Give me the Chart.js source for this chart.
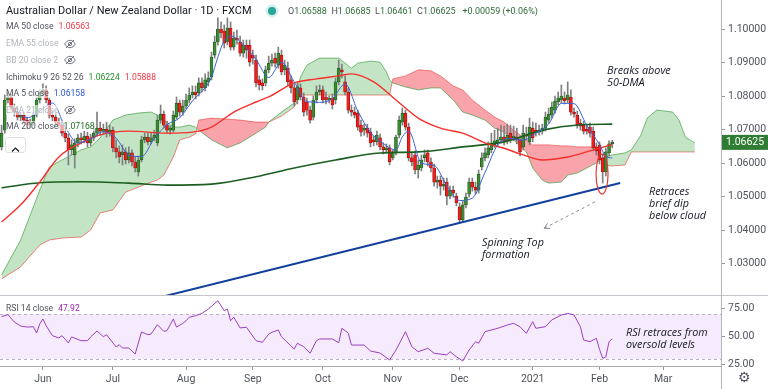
<!DOCTYPE html>
<html>
<head>
<meta charset="utf-8">
<script src="https://cdn.jsdelivr.net/npm/chart.js@4.4.1/dist/chart.umd.min.js"></script>
<style>
body{margin:0;background:#fff;}
#wrap{position:relative;width:768px;height:389px;overflow:hidden;background:#fff;font-family:Roboto,"Noto Sans",sans-serif;}
canvas{position:absolute;left:0;}
.hl{position:absolute;left:0;height:1px;background:#c4c6cc;}
.vl{position:absolute;top:0;width:1px;height:389px;background:#b4b6bd;}
.row{position:absolute;left:6px;font-size:8.6px;line-height:13px;color:#50535e;white-space:nowrap;}
.bg{background:rgba(255,255,255,.6);}
.off{color:#b2b5be;}
.row svg{vertical-align:middle;margin-left:6px;}
.v{margin-left:5px;}
.note{position:absolute;font-family:"Open Sans",sans-serif;font-style:italic;font-size:10.8px;line-height:12px;color:#131722;white-space:nowrap;}
#dot{position:absolute;left:268px;top:7px;width:8px;height:8px;border-radius:50%;background:#26a69a;box-shadow:0 0 0 2.5px #d5efec;}
#btn{position:absolute;left:5px;top:137px;width:19px;height:14px;border:1px solid #dfe1e6;border-radius:3px;background:#fff;text-align:center;}
#gear{position:absolute;left:738px;top:369px;font-family:"DejaVu Sans";font-size:14px;color:#50535e;}
</style>
</head>
<body>
<div id="wrap">
  <canvas id="main" width="768" height="295" style="top:0"></canvas>
  <canvas id="rsi" width="768" height="93" style="top:296px"></canvas>
  <div class="hl" style="top:295px;width:768px"></div>
  <div class="hl" style="top:366px;width:721px;background:#a9abb2"></div>
  <div class="vl" style="left:721px"></div>

  <div class="row" style="top:3px;font-size:11px;line-height:15px;color:#131722"><span class="bg">Australian Dollar / New Zealand Dollar · 1D · FXCM</span></div>
  <div id="dot"></div>
  <div class="row" style="left:288px;top:5px;font-size:9px;line-height:12px;color:#4a4e57">O<span style="color:#2f6b3a">1.06588</span>&nbsp; H<span style="color:#2f6b3a">1.06685</span>&nbsp; L<span style="color:#2f6b3a">1.06461</span>&nbsp; C<span style="color:#2f6b3a">1.06625</span>&nbsp;&nbsp; <span style="color:#2f6b3a">+0.00059 (+0.06%)</span></div>

  <div class="row" style="top:20px"><span class="bg">MA 50 close<span class="v" style="color:#f23645">1.06563</span></span></div>
  <div class="row off" style="top:37px"><span class="bg">EMA 55 close</span><svg width="12" height="10" viewBox="0 0 18 14"><path d="M1 7c2-3.5 5-5.5 8-5.5s6 2 8 5.5c-2 3.5-5 5.5-8 5.5S3 10.5 1 7z" fill="none" stroke="#6a6d78" stroke-width="1.4"/><circle cx="9" cy="7" r="2.4" fill="none" stroke="#6a6d78" stroke-width="1.4"/><path d="M3 13L15 1" stroke="#6a6d78" stroke-width="1.4"/></svg></div>
  <div class="row off" style="top:53.5px"><span class="bg">BB 20 close 2</span><svg width="12" height="10" viewBox="0 0 18 14"><path d="M1 7c2-3.5 5-5.5 8-5.5s6 2 8 5.5c-2 3.5-5 5.5-8 5.5S3 10.5 1 7z" fill="none" stroke="#6a6d78" stroke-width="1.4"/><circle cx="9" cy="7" r="2.4" fill="none" stroke="#6a6d78" stroke-width="1.4"/><path d="M3 13L15 1" stroke="#6a6d78" stroke-width="1.4"/></svg></div>
  <div class="row" style="top:71px"><span class="bg">Ichimoku 9 26 52 26<span class="v" style="color:#22902c">1.06224</span><span class="v" style="color:#f23645">1.05888</span></span></div>
  <div class="row" style="top:87px"><span class="bg">MA 5 close<span class="v" style="color:#2b55d6">1.06158</span></span></div>
  <div class="row off" style="top:103.5px"><span class="bg">EMA 21 close</span><svg width="12" height="10" viewBox="0 0 18 14"><path d="M1 7c2-3.5 5-5.5 8-5.5s6 2 8 5.5c-2 3.5-5 5.5-8 5.5S3 10.5 1 7z" fill="none" stroke="#6a6d78" stroke-width="1.4"/><circle cx="9" cy="7" r="2.4" fill="none" stroke="#6a6d78" stroke-width="1.4"/><path d="M3 13L15 1" stroke="#6a6d78" stroke-width="1.4"/></svg></div>
  <div class="row" style="top:120px"><span class="bg">MA 200 close<span class="v" style="color:#1e6b23">1.07168</span></span></div>
  <div id="btn"><svg width="9" height="7" style="margin-top:4px"><path d="M1 5.5L4.5 2L8 5.5" stroke="#131722" fill="none" stroke-width="1.2"/></svg></div>

  <div class="row" style="top:302px"><span class="bg">RSI 14 close<span class="v" style="color:#9c27b0">47.92</span></span></div>

  <div class="note" style="left:607px;top:64px">Breaks above<br>50-DMA</div>
  <div class="note" style="left:649px;top:185px">Retraces<br>brief dip<br>below cloud</div>
  <div class="note" style="left:482px;top:236px">Spinning Top<br>formation</div>
  <div class="note" style="left:626px;top:326px">RSI retraces from<br>oversold levels</div>
  <div id="gear">⚙</div>
</div>

<script>
// x positions are trading-day indices (0 = 13 May 2020)
const monthLabels = ['Jun','Jul','Aug','Sep','Oct','Nov','Dec','2021','Feb','Mar'];
const monthStart = [13,35,58,79,101,123,144,167,188,208];
const priceTicks = [1.03,1.04,1.05,1.06,1.07,1.08,1.09,1.10];
const rsiTicks = [25,50,75];
const rsiLevels = [30,70];

const opens = [
  1.0649,1.0699,1.0789,1.0798,1.0765,1.0753,1.0738,1.0744,1.0729,1.0714,
  1.0723,1.0744,1.0789,1.0810,1.0819,1.0789,1.0744,1.0738,1.0723,1.0714,
  1.0690,1.0676,1.0640,1.0625,1.0661,1.0676,1.0670,1.0681,1.0661,1.0676,
  1.0690,1.0705,1.0696,1.0702,1.0693,1.0699,1.0646,1.0634,1.0625,1.0634,
  1.0610,1.0631,1.0604,1.0574,1.0610,1.0670,1.0678,1.0664,1.0676,1.0661,
  1.0729,1.0747,1.0714,1.0699,1.0699,1.0738,1.0780,1.0753,1.0771,1.0789,
  1.0804,1.0813,1.0810,1.0840,1.0825,1.0843,1.0858,1.0923,1.0962,1.1001,
  1.0995,1.0962,1.1004,1.0947,1.0974,1.0962,1.0929,1.0953,1.0953,1.0923,
  1.0908,1.0849,1.0840,1.0840,1.0879,1.0899,1.0914,1.0893,1.0923,1.0879,
  1.0884,1.0849,1.0825,1.0789,1.0825,1.0798,1.0783,1.0759,1.0738,1.0789,
  1.0813,1.0819,1.0798,1.0789,1.0795,1.0789,1.0843,1.0879,1.0843,1.0813,
  1.0759,1.0753,1.0750,1.0714,1.0699,1.0705,1.0693,1.0670,1.0664,1.0676,
  1.0649,1.0640,1.0646,1.0616,1.0631,1.0684,1.0723,1.0750,1.0708,1.0616,
  1.0625,1.0580,1.0586,1.0616,1.0631,1.0604,1.0586,1.0544,1.0550,1.0532,
  1.0544,1.0502,1.0520,1.0502,1.0470,1.0431,1.0476,1.0508,1.0544,1.0529,
  1.0520,1.0589,1.0616,1.0625,1.0640,1.0655,1.0661,1.0670,1.0678,1.0667,
  1.0690,1.0676,1.0678,1.0670,1.0649,1.0684,1.0664,1.0705,1.0699,1.0693,
  1.0696,1.0705,1.0729,1.0744,1.0759,1.0783,1.0789,1.0795,1.0789,1.0798,
  1.0753,1.0744,1.0720,1.0714,1.0702,1.0708,1.0696,1.0649,1.0655,1.0616,
  1.0574,1.0631,1.06588
];
const highs = [
  1.0714,1.0804,1.0813,1.0807,1.0777,1.0765,1.0753,1.0753,1.0738,1.0732,
  1.0753,1.0798,1.0819,1.0837,1.0831,1.0795,1.0756,1.0750,1.0735,1.0726,
  1.0705,1.0687,1.0670,1.0673,1.0687,1.0690,1.0696,1.0693,1.0687,1.0711,
  1.0753,1.0723,1.0717,1.0723,1.0714,1.0708,1.0670,1.0652,1.0655,1.0646,
  1.0649,1.0640,1.0619,1.0622,1.0681,1.0690,1.0690,1.0690,1.0699,1.0744,
  1.0774,1.0756,1.0726,1.0711,1.0756,1.0798,1.0789,1.0789,1.0807,1.0825,
  1.0831,1.0831,1.0855,1.0855,1.0867,1.0873,1.0932,1.0980,1.1034,1.1022,
  1.1013,1.1034,1.1022,1.0992,1.0998,1.0980,1.0968,1.0968,1.0968,1.0938,
  1.0923,1.0861,1.0852,1.0890,1.0920,1.0926,1.0929,1.0947,1.0938,1.0908,
  1.0902,1.0861,1.0837,1.0840,1.0837,1.0810,1.0795,1.0771,1.0801,1.0831,
  1.0834,1.0831,1.0813,1.0801,1.0807,1.0855,1.0908,1.0896,1.0861,1.0825,
  1.0774,1.0768,1.0759,1.0729,1.0717,1.0717,1.0705,1.0681,1.0696,1.0687,
  1.0661,1.0658,1.0655,1.0640,1.0684,1.0741,1.0765,1.0759,1.0720,1.0631,
  1.0637,1.0610,1.0625,1.0640,1.0640,1.0616,1.0598,1.0562,1.0562,1.0556,
  1.0556,1.0532,1.0532,1.0511,1.0482,1.0488,1.0511,1.0556,1.0556,1.0544,
  1.0580,1.0631,1.0646,1.0664,1.0690,1.0699,1.0705,1.0714,1.0711,1.0717,
  1.0714,1.0711,1.0705,1.0681,1.0714,1.0708,1.0735,1.0723,1.0720,1.0714,
  1.0717,1.0753,1.0765,1.0783,1.0801,1.0813,1.0834,1.0813,1.0843,1.0819,
  1.0765,1.0756,1.0732,1.0726,1.0717,1.0720,1.0708,1.0661,1.0664,1.0628,
  1.0646,1.0667,1.06685
];
const lows = [
  1.0640,1.0690,1.0780,1.0762,1.0741,1.0729,1.0726,1.0720,1.0702,1.0705,
  1.0714,1.0738,1.0780,1.0801,1.0780,1.0735,1.0726,1.0711,1.0705,1.0681,
  1.0664,1.0595,1.0625,1.0586,1.0649,1.0658,1.0661,1.0649,1.0652,1.0667,
  1.0681,1.0684,1.0687,1.0678,1.0681,1.0634,1.0616,1.0601,1.0595,1.0598,
  1.0601,1.0592,1.0574,1.0562,1.0604,1.0661,1.0655,1.0658,1.0667,1.0652,
  1.0720,1.0705,1.0690,1.0687,1.0693,1.0732,1.0741,1.0744,1.0762,1.0780,
  1.0795,1.0792,1.0801,1.0813,1.0816,1.0831,1.0849,1.0914,1.0953,1.0974,
  1.0944,1.0953,1.0938,1.0938,1.0956,1.0920,1.0917,1.0914,1.0890,1.0896,
  1.0828,1.0819,1.0819,1.0831,1.0870,1.0890,1.0887,1.0884,1.0864,1.0864,
  1.0831,1.0810,1.0771,1.0777,1.0789,1.0741,1.0744,1.0720,1.0729,1.0780,
  1.0804,1.0780,1.0777,1.0780,1.0762,1.0777,1.0834,1.0855,1.0804,1.0750,
  1.0741,1.0735,1.0699,1.0681,1.0684,1.0678,1.0649,1.0652,1.0655,1.0640,
  1.0628,1.0631,1.0595,1.0610,1.0625,1.0676,1.0714,1.0699,1.0607,1.0592,
  1.0568,1.0556,1.0577,1.0604,1.0592,1.0574,1.0532,1.0526,1.0505,1.0520,
  1.0476,1.0494,1.0499,1.0473,1.0422,1.0425,1.0467,1.0499,1.0517,1.0508,
  1.0511,1.0580,1.0607,1.0616,1.0631,1.0646,1.0649,1.0661,1.0655,1.0658,
  1.0661,1.0667,1.0658,1.0622,1.0640,1.0670,1.0655,1.0664,1.0681,1.0684,
  1.0687,1.0696,1.0720,1.0735,1.0750,1.0774,1.0780,1.0777,1.0780,1.0744,
  1.0738,1.0705,1.0699,1.0687,1.0687,1.0678,1.0637,1.0625,1.0598,1.0541,
  1.0562,1.0622,1.06461
];
const closes = [
  1.0690,1.0789,1.0798,1.0765,1.0753,1.0738,1.0744,1.0729,1.0714,1.0723,
  1.0744,1.0789,1.0810,1.0819,1.0789,1.0744,1.0738,1.0723,1.0714,1.0690,
  1.0676,1.0640,1.0655,1.0661,1.0676,1.0670,1.0681,1.0661,1.0676,1.0690,
  1.0705,1.0696,1.0702,1.0693,1.0699,1.0646,1.0634,1.0619,1.0634,1.0610,
  1.0631,1.0604,1.0586,1.0610,1.0670,1.0678,1.0664,1.0676,1.0684,1.0729,
  1.0747,1.0714,1.0699,1.0705,1.0744,1.0780,1.0753,1.0771,1.0789,1.0804,
  1.0813,1.0804,1.0840,1.0825,1.0849,1.0855,1.0917,1.0962,1.1001,1.0989,
  1.0959,1.1004,1.0947,1.0974,1.0968,1.0929,1.0953,1.0938,1.0902,1.0914,
  1.0840,1.0834,1.0831,1.0879,1.0899,1.0908,1.0899,1.0929,1.0873,1.0893,
  1.0843,1.0825,1.0783,1.0828,1.0798,1.0753,1.0759,1.0729,1.0789,1.0813,
  1.0819,1.0789,1.0789,1.0795,1.0774,1.0843,1.0884,1.0873,1.0813,1.0759,
  1.0753,1.0744,1.0708,1.0693,1.0705,1.0690,1.0661,1.0664,1.0684,1.0649,
  1.0640,1.0646,1.0604,1.0634,1.0678,1.0729,1.0750,1.0708,1.0616,1.0604,
  1.0580,1.0595,1.0610,1.0625,1.0604,1.0586,1.0544,1.0550,1.0532,1.0538,
  1.0502,1.0520,1.0511,1.0482,1.0431,1.0476,1.0499,1.0544,1.0529,1.0520,
  1.0568,1.0616,1.0631,1.0646,1.0661,1.0667,1.0670,1.0678,1.0667,1.0684,
  1.0670,1.0681,1.0670,1.0634,1.0690,1.0681,1.0708,1.0676,1.0693,1.0699,
  1.0705,1.0738,1.0747,1.0768,1.0786,1.0795,1.0801,1.0786,1.0804,1.0753,
  1.0747,1.0714,1.0711,1.0696,1.0696,1.0690,1.0646,1.0637,1.0610,1.0574,
  1.0634,1.0658,1.06625
];

// moving averages as [index, value]
const ma5 = [[4,1.0759],[8,1.0736],[12,1.0756],[16,1.0780],[20,1.0708],[24,1.0661],[28,1.0673],[32,1.0694],[36,1.0675],[40,1.0625],
  [44,1.0620],[48,1.0674],[52,1.0715],[56,1.0736],[60,1.0786],[64,1.0826],[66,1.0857],[68,1.0917],[70,1.0966],[72,1.0980],
  [76,1.0954],[80,1.0910],[84,1.0856],[88,1.0902],[92,1.0843],[96,1.0784],[100,1.0782],[104,1.0793],[108,1.0837],[112,1.0756],
  [116,1.0692],[120,1.0659],[124,1.0640],[126,1.0679],[128,1.0696],[132,1.0601],[136,1.0594],[140,1.0533],[144,1.0489],[148,1.0496],
  [152,1.0573],[156,1.0655],[160,1.0674],[164,1.0669],[168,1.0690],[172,1.0717],[176,1.0779],[180,1.0778],[184,1.0713],[188,1.0656],
  [190,1.0620],[192,1.0616]];
const ma50 = [[0,1.0425],[6,1.0476],[12,1.0544],[18,1.0619],[25,1.0661],[31,1.0685],[40,1.0696],[52,1.0690],[60,1.0693],[66,1.0708],
  [73,1.0753],[80,1.0783],[84,1.0798],[92,1.0840],[99,1.0852],[106,1.0861],[110,1.0867],[117,1.0843],[124,1.0789],[131,1.0735],
  [138,1.0705],[145,1.0690],[152,1.0661],[158,1.0645],[164,1.0625],[170,1.0610],[178,1.0619],[185,1.0637],[192,1.0656]];
const ma200 = [[0,1.0527],[12,1.0542],[25,1.0545],[40,1.0541],[52,1.0535],[66,1.0538],[80,1.0560],[92,1.0586],[105,1.0610],[119,1.0631],
  [131,1.0634],[145,1.0649],[158,1.0664],[170,1.0699],[182,1.0715],[192,1.0717]];

// Ichimoku cloud (lead lines, shifted 26 bars ahead)
const cloudIdx = [0,6,12,15,19,25,28,31,35,39,43,47,49,51,54,56,59,61,62,66,71,75,80,83,84,88,92,94,96,100,
  106,110,112,116,119,121,122,123,127,131,135,138,142,145,148,152,155,158,161,165,167,170,172,176,178,181,184,187,189,192,
  196,198,201,203,206,211,213,215,218];
const leadA = [1.0267,1.0371,1.0520,1.0589,1.0610,1.0640,1.0649,1.0676,1.0729,1.0744,1.0750,1.0753,1.0744,1.0729,1.0708,1.0708,1.0714,1.0708,1.0699,1.0670,
  1.0646,1.0661,1.0690,1.0708,1.0723,1.0753,1.0780,1.0858,1.0893,1.0914,1.0914,1.0884,1.0899,1.0905,1.0902,1.0873,1.0849,1.0840,1.0828,1.0819,
  1.0825,1.0825,1.0789,1.0753,1.0744,1.0729,1.0705,1.0693,1.0670,1.0634,1.0586,1.0550,1.0541,1.0544,1.0565,1.0571,1.0586,1.0601,1.0616,1.0625,
  1.0631,1.0640,1.0684,1.0735,1.0759,1.0753,1.0729,1.0678,1.0661];
const leadB = [1.0255,1.0291,1.0356,1.0371,1.0377,1.0380,1.0401,1.0452,1.0461,1.0514,1.0529,1.0544,1.0550,1.0565,1.0619,1.0670,1.0678,1.0688,1.0729,1.0735,
  1.0732,1.0729,1.0723,1.0723,1.0723,1.0741,1.0768,1.0804,1.0804,1.0804,1.0804,1.0804,1.0804,1.0804,1.0804,1.0804,1.0804,1.0852,1.0861,1.0879,
  1.0876,1.0861,1.0831,1.0819,1.0789,1.0759,1.0738,1.0723,1.0699,1.0670,1.0655,1.0655,1.0655,1.0652,1.0652,1.0649,1.0649,1.0649,1.0595,1.0592,
  1.0595,1.0634,1.0634,1.0634,1.0634,1.0634,1.0634,1.0634,1.0634];

const trendLine = [[49.8,1.0200],[194.5,1.0541]];
const dipMark = [188.8,1.0568];
const arrowFrom = [186.6,1.0485];
const arrowTo = [170.6,1.0406];

const rsi = [[0,67.6],[2,69.4],[4,62.9],[6,59.3],[8,58.4],[10,58.7],[11,53.1],[12,61.1],[13,65.6],[14,59.6],
  [16,50.7],[18,48.7],[19,50.7],[21,44.2],[22,49.6],[25,46.3],[27,46.3],[28,49.6],[30,54.9],[32,49.8],
  [33,51.6],[36,40.7],[37,42.7],[38,39.8],[40,39.8],[42,34.4],[44,54.0],[46,51.6],[47,52.2],[49,60.5],
  [51,54.6],[52,55.2],[54,65.6],[55,58.4],[57,61.7],[58,64.0],[59,67.1],[61,68.5],[63,70.6],[65,74.4],
  [68,81.8],[70,72.9],[71,74.4],[72,64.0],[73,67.1],[75,57.6],[77,58.2],[80,46.3],[82,44.8],[84,52.2],
  [85,53.7],[87,55.8],[88,49.8],[92,38.9],[93,44.0],[95,41.0],[97,35.1],[99,46.3],[100,47.8],[104,47.8],
  [106,44.5],[107,57.3],[109,53.1],[110,42.4],[114,42.4],[116,37.1],[119,35.3],[122,29.1],[124,38.0],[126,48.7],
  [127,54.3],[129,40.9],[131,36.5],[134,39.5],[136,35.1],[140,33.6],[141,36.5],[143,32.0],[145,28.2],[147,38.0],
  [149,45.4],[150,44.0],[152,54.3],[156,57.3],[159,60.2],[161,61.7],[163,58.7],[165,52.8],[167,63.2],[168,57.3],
  [171,58.7],[173,64.7],[176,69.1],[178,70.6],[180,69.1],[182,58.7],[183,46.9],[185,45.4],[187,48.4],[188,38.6],
  [189,30.6],[190,32.0],[191,45.4],[192,47.92]];

document.addEventListener('DOMContentLoaded',() =>
{
    Chart.defaults.font.family = 'Roboto';
    const X_MIN = -0.5, X_MAX = 226.2;
    const UP = '#3d8a33', UP_EDGE = '#1f5a1f', DOWN = '#f01e1e', DOWN_EDGE = '#9c1010';
    const AXIS = '#9598a1', LABEL = '#50535e';
    const pts = arr => arr.map(([x,y]) => ({ x,y }));
    const isUp = i => closes[i] >= opens[i];

    // fixed axis sizes so both panels line up
    const fitY = s => { s.width = 47; s.paddingTop = 0; s.paddingBottom = 0; };
    const fitX = s => { s.height = 23; s.paddingLeft = 0; s.paddingRight = 0; };

    const lineSet = (data,color,width,order) => ({
        type: 'line',data: pts(data),borderColor: color,borderWidth: width,pointRadius: 0,
        cubicInterpolationMode: 'monotone',fill: false,order
    });

    // red ellipse, dashed arrow and the last price tag
    const marks = {
        id: 'marks',
        afterDatasetsDraw(chart)
        {
            const { ctx,scales: { x,y } } = chart;
            ctx.save();
            ctx.strokeStyle = '#e53935';
            ctx.lineWidth = 1.2;
            ctx.beginPath();
            ctx.ellipse(x.getPixelForValue(dipMark[0]),y.getPixelForValue(dipMark[1]),6,20,0,0,Math.PI * 2);
            ctx.stroke();

            const x1 = x.getPixelForValue(arrowFrom[0]),y1 = y.getPixelForValue(arrowFrom[1]);
            const x2 = x.getPixelForValue(arrowTo[0]),y2 = y.getPixelForValue(arrowTo[1]);
            ctx.strokeStyle = '#8a8d96';
            ctx.lineWidth = 1;
            ctx.setLineDash([3,3]);
            ctx.beginPath();
            ctx.moveTo(x1,y1);
            ctx.lineTo(x2,y2);
            ctx.stroke();
            ctx.setLineDash([]);
            const a = Math.atan2(y1 - y2,x1 - x2);
            ctx.beginPath();
            ctx.moveTo(x2 + 6 * Math.cos(a - 0.5),y2 + 6 * Math.sin(a - 0.5));
            ctx.lineTo(x2,y2);
            ctx.lineTo(x2 + 6 * Math.cos(a + 0.5),y2 + 6 * Math.sin(a + 0.5));
            ctx.stroke();
            ctx.restore();
        },
        afterDraw(chart)
        {
            const { ctx,chartArea } = chart;
            const last = closes[closes.length - 1];
            const yy = chart.scales.y.getPixelForValue(last);
            ctx.save();
            ctx.fillStyle = '#2f7d32';
            ctx.fillRect(chartArea.right + 1,yy - 7.5,47,15);
            ctx.fillStyle = '#ffffff';
            ctx.font = '10.5px Roboto';
            ctx.textBaseline = 'middle';
            ctx.fillText(last.toFixed(5),chartArea.right + 5,yy + 0.5);
            ctx.restore();
        }
    };

    new Chart(document.getElementById('main'),{
        type: 'bar',
        data: {
            datasets: [
                {
                    type: 'line',data: cloudIdx.map((x,i) => ({ x,y: leadA[i] })),
                    borderColor: 'rgba(67,160,71,0.7)',borderWidth: 1,pointRadius: 0,
                    fill: { target: 1,above: 'rgba(76,175,80,0.33)',below: 'rgba(242,54,69,0.45)' },order: 20
                },
                {
                    type: 'line',data: cloudIdx.map((x,i) => ({ x,y: leadB[i] })),
                    borderColor: 'rgba(239,83,80,0.7)',borderWidth: 1,pointRadius: 0,fill: false,order: 21
                },
                {
                    data: lows.map((l,i) => ({ x: i,y: [l,highs[i]] })),
                    backgroundColor: '#7f7f7f',barThickness: 1,grouped: false,order: 15
                },
                {
                    data: opens.map((o,i) => ({ x: i,y: [o,closes[i]] })),
                    backgroundColor: c => isUp(c.dataIndex) ? UP : DOWN,
                    borderColor: c => isUp(c.dataIndex) ? UP_EDGE : DOWN_EDGE,
                    borderWidth: 0.7,borderSkipped: false,barThickness: 3,grouped: false,order: 14
                },
                lineSet(ma200,'#1b5e20',1.6,5),
                lineSet(ma50,'#f5302b',1.4,4),
                lineSet(ma5,'#3a63d4',1,3),
                { type: 'line',data: pts(trendLine),borderColor: '#123f9c',borderWidth: 2,pointRadius: 0,fill: false,order: 2 }
            ]
        },
        options: {
            responsive: false,animation: false,devicePixelRatio: 1,events: [],
            layout: { padding: 0 },
            plugins: { legend: { display: false },tooltip: { enabled: false } },
            scales: {
                x: { type: 'linear',min: X_MIN,max: X_MAX,display: false,offset: false },
                y: {
                    position: 'right',min: 1.02069,max: 1.10875,
                    afterFit: fitY,
                    afterBuildTicks: s => { s.ticks = priceTicks.map(v => ({ value: v })); },
                    ticks: { callback: v => v.toFixed(5),color: LABEL,font: { size: 10.5 },padding: 3 },
                    grid: { drawOnChartArea: false,tickLength: 4,color: AXIS },
                    border: { display: false }
                }
            }
        },
        plugins: [marks]
    });

    // RSI band between 30 and 70
    const band = {
        id: 'band',
        beforeDatasetsDraw(chart)
        {
            const { ctx,chartArea: a,scales: { y } } = chart;
            const top = y.getPixelForValue(rsiLevels[1]),bot = y.getPixelForValue(rsiLevels[0]);
            ctx.save();
            ctx.fillStyle = 'rgba(170,90,235,0.12)';
            ctx.fillRect(a.left,top,a.width,bot - top);
            ctx.strokeStyle = '#b9b2c6';
            ctx.lineWidth = 1;
            ctx.setLineDash([3,3]);
            [top,bot].forEach(p =>
            {
                ctx.beginPath();
                ctx.moveTo(a.left,Math.round(p) + 0.5);
                ctx.lineTo(a.right,Math.round(p) + 0.5);
                ctx.stroke();
            });
            ctx.restore();
        }
    };

    new Chart(document.getElementById('rsi'),{
        type: 'line',
        data: {
            datasets: [{ data: pts(rsi),borderColor: '#9c3fbf',borderWidth: 1,pointRadius: 0,fill: false }]
        },
        options: {
            responsive: false,animation: false,devicePixelRatio: 1,events: [],
            layout: { padding: 0 },
            plugins: { legend: { display: false },tooltip: { enabled: false } },
            scales: {
                x: {
                    type: 'linear',min: X_MIN,max: X_MAX,
                    afterFit: fitX,
                    afterBuildTicks: s => { s.ticks = monthStart.map(v => ({ value: v })); },
                    ticks: {
                        autoSkip: false,maxRotation: 0,color: LABEL,font: { size: 10.5 },padding: 3,
                        callback: v => monthLabels[monthStart.indexOf(v)]
                    },
                    grid: { drawOnChartArea: false,tickLength: 4,color: AXIS },
                    border: { display: false }
                },
                y: {
                    position: 'right',min: 23.78,max: 86,
                    afterFit: fitY,
                    afterBuildTicks: s => { s.ticks = rsiTicks.map(v => ({ value: v })); },
                    ticks: { callback: v => v.toFixed(2),color: LABEL,font: { size: 10.5 },padding: 3 },
                    grid: { drawOnChartArea: false,tickLength: 4,color: AXIS },
                    border: { display: false }
                }
            }
        },
        plugins: [band]
    });
});
</script>
</body>
</html>
